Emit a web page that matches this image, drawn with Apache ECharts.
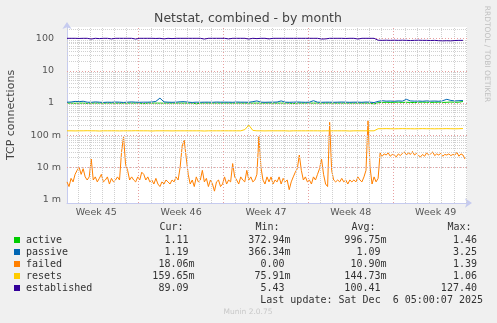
<!DOCTYPE html>
<html>
<head>
<meta charset="utf-8">
<script src="https://cdn.jsdelivr.net/npm/echarts@6/dist/echarts.min.js"></script>
<style>
html,body{margin:0;padding:0;background:#f0f0f0;}
#c{width:497px;height:323px;}
</style>
</head>
<body>
<div id="c"></div>
<script>
// ---- data (x in hours since left edge of the graph; 33 days shown) ----
var weekLabels = ['Week 45','Week 46','Week 47','Week 48','Week 49'];
var weekStartHours = [-26, 142, 310, 478, 646];   // Sunday 00:00 boundaries
var rangeHours = 792;
var yTickValues = [0.001, 0.01, 0.1, 1, 10, 100];
var yTickLabels = ['1 m', '10 m', '100 m', '1', '10', '100'];

var failedStep = 4;
var failed = [
0.0035,0.0025,0.0045,0.0035,0.006,0.008,0.010,0.006,0.009,0.005,
0.004,0.005,0.018,0.004,0.005,0.0035,0.0045,0.006,0.0035,0.004,
0.005,0.003,0.0045,0.0035,0.004,0.005,0.004,0.030,0.090,0.012,
0.008,0.004,0.005,0.004,0.0035,0.005,0.004,0.007,0.006,0.004,
0.005,0.0035,0.004,0.003,0.0045,0.003,0.0025,0.0035,0.003,0.004,
0.0035,0.003,0.004,0.0035,0.005,0.004,0.010,0.045,0.070,0.020,
0.006,0.003,0.004,0.0025,0.005,0.0035,0.004,0.008,0.0035,0.0045,
0.0025,0.004,0.003,0.0018,0.0035,0.004,0.0025,0.003,0.005,0.003,
0.004,0.0035,0.013,0.005,0.004,0.003,0.005,0.004,0.0035,0.008,
0.004,0.005,0.0035,0.004,0.006,0.090,0.010,0.004,0.003,0.005,
0.0035,0.005,0.003,0.004,0.0035,0.005,0.003,0.0045,0.0035,0.004,
0.002,0.0035,0.005,0.007,0.009,0.024,0.008,0.004,0.005,0.0035,
0.004,0.003,0.005,0.004,0.006,0.009,0.018,0.006,0.003,0.0025,
0.250,0.008,0.004,0.0035,0.004,0.0035,0.0045,0.0035,0.004,0.003,
0.004,0.0035,0.004,0.0035,0.005,0.004,0.0035,0.005,0.008,0.280,
0.010,0.003,0.005,0.0035,0.0045,0.028,0.022,0.026,0.024,0.028,
0.022,0.025,0.024,0.021,0.026,0.023,0.027,0.030,0.024,0.028,
0.025,0.031,0.024,0.027,0.023,0.021,0.025,0.022,0.028,0.024,
0.026,0.030,0.023,0.026,0.024,0.027,0.022,0.025,0.024,0.026,
0.023,0.025,0.024,0.029,0.022,0.026,0.024,0.018
];

var otherStep = 8;
var active = [
0.99,0.99,0.98,0.99,0.99,0.97,0.99,0.99,0.99,0.99,
0.99,0.99,0.99,0.98,0.99,0.99,0.99,0.99,0.99,0.95,
0.99,0.99,0.99,0.99,0.99,0.99,0.99,0.99,0.99,0.99,
0.99,0.99,0.94,0.99,0.99,0.99,0.99,0.99,0.99,0.99,
0.99,0.99,0.99,0.99,0.99,0.99,0.99,0.99,0.99,0.99,
0.99,0.99,0.99,0.99,0.99,0.99,0.96,0.99,0.99,0.99,
0.99,0.99,0.99,0.99,0.99,0.99,0.99,0.99,0.99,0.99,
0.99,0.99,0.99,0.99,0.99,0.99,0.93,1.02,1.04,1.05,
1.04,1.05,1.06,1.04,1.05,1.04,1.03,1.05,1.06,1.05,
1.04,1.05,1.06,1.04,1.05,1.07,1.05,1.06,1.11
];
var passive = [
1.06,1.07,1.12,1.10,1.13,1.06,1.05,1.08,1.06,1.04,
1.06,1.05,1.07,1.06,1.04,1.06,1.08,1.06,1.05,1.06,
1.06,1.07,1.12,1.42,1.08,1.06,1.05,1.06,1.09,1.10,
1.06,1.04,1.06,1.05,1.06,1.06,1.05,1.07,1.06,1.06,
1.06,1.05,1.07,1.06,1.06,1.05,1.10,1.16,1.06,1.05,
1.06,1.06,1.07,1.16,1.06,1.05,1.06,1.07,1.06,1.05,
1.06,1.18,1.06,1.05,1.06,1.06,1.05,1.06,1.07,1.06,
1.05,1.06,1.06,1.05,1.07,1.06,1.03,1.12,1.18,1.14,
1.15,1.13,1.16,1.14,1.30,1.16,1.14,1.15,1.13,1.16,
1.14,1.15,1.13,1.18,1.30,1.20,1.16,1.18,1.19
];
var resets = [
0.136,0.136,0.135,0.136,0.136,0.137,0.136,0.136,0.134,0.136,
0.136,0.136,0.136,0.135,0.136,0.136,0.136,0.137,0.136,0.136,
0.136,0.134,0.136,0.136,0.136,0.136,0.135,0.136,0.136,0.136,
0.136,0.136,0.136,0.136,0.134,0.136,0.136,0.136,0.136,0.136,
0.136,0.136,0.136,0.136,0.148,0.205,0.140,0.136,0.136,0.135,
0.136,0.136,0.136,0.136,0.136,0.134,0.136,0.136,0.136,0.136,
0.136,0.136,0.136,0.135,0.136,0.136,0.136,0.136,0.136,0.136,
0.134,0.136,0.136,0.136,0.136,0.136,0.136,0.158,0.158,0.159,
0.158,0.157,0.158,0.159,0.158,0.158,0.157,0.158,0.159,0.158,
0.158,0.157,0.158,0.158,0.159,0.158,0.157,0.158,0.160
];
var established = [
103,103,103,102,103,103,98,103,101,103,
103,99,103,103,103,103,103,98,103,103,
103,103,102,103,99,103,101,103,103,103,
103,103,103,103,98,103,103,103,103,103,
99,103,103,103,103,98,103,101,103,103,
99,103,103,103,103,103,103,103,103,103,
103,103,103,98,99,103,103,103,103,102,
103,103,98,103,103,103,103,90,89,90,
89,90,89,90,89,88,89,90,89,89,
88,89,87,86,87,86,88,89,89
];

var seriesNames = ['active','passive','failed','resets','established'];
var seriesColors = ['#00cc00','#0066b3','#ff8000','#ffcc00','#330099'];
var curVals = ['1.11 ','1.19 ','18.06m','159.65m','89.09 '];
var minVals = ['372.94m','366.34m','0.00 ','75.91m','5.43 '];
var avgVals = ['996.75m','1.09 ','10.90m','144.73m','100.41 '];
var maxVals = ['1.46 ','3.25 ','1.39 ','1.06 ','127.40 '];
var lastUpdate = 'Last update: Sat Dec  6 05:00:07 2025';

// ---- build ----
function pairs(arr, step){ return arr.map(function(v,i){ return [i*step, v]; }); }
var seriesData = [pairs(active,otherStep), pairs(passive,otherStep), pairs(failed,failedStep), pairs(resets,otherStep), pairs(established,otherStep)];

var weekCenters = weekStartHours.map(function(h){ return h + 84; });
var majorX = weekStartHours.filter(function(h){ return h > 0 && h < rangeHours; });
var minorX = [];
for (var h = 22; h < rangeHours; h += 24) { if (majorX.indexOf(h) < 0) minorX.push(h); }
var yMin = 0.00077, yMax = 232;
var minorY = [];
for (var d = -3; d <= 2; d++) { for (var k = 2; k <= 9; k++) { var v = k*Math.pow(10,d); if (v < yMax) minorY.push(v); } }

var chart = echarts.init(document.getElementById('c'), null, {renderer:'canvas'});
var FONT = 'DejaVu Sans';
var MONO = 'DejaVu Sans Mono';

var series = [];
series.push({
  type:'line', data:[], silent:true, z:1, symbol:'none',
  markLine:{ silent:true, symbol:'none', animation:false, label:{show:false},
    lineStyle:{color:'#d0d0d0', width:1, type:[1,1]},
    data: minorX.map(function(x){return {xAxis:x};}).concat(minorY.map(function(y){return {yAxis:y};})) }
});
series.push({
  type:'line', data:[], silent:true, z:1, symbol:'none',
  markLine:{ silent:true, symbol:'none', animation:false, label:{show:false},
    lineStyle:{color:'#e8a0a0', width:1, type:[1,2]},
    data: majorX.map(function(x){return {xAxis:x};}).concat(yTickValues.map(function(y){return {yAxis:y};})) }
});
seriesNames.forEach(function(n,i){
  series.push({ name:n, type:'line', data:seriesData[i], showSymbol:false, symbol:'none',
    z:2+i, lineStyle:{color:seriesColors[i], width:1}, itemStyle:{color:seriesColors[i]}, animation:false });
});

var graphics = [
  {type:'text', x:248, y:18.5, style:{text:'Netstat, combined - by month', font:'12.5px "'+FONT+'"', fill:'#444', align:'center', verticalAlign:'middle'}},
  {type:'text', x:11, y:115, rotation:Math.PI/2, style:{text:'TCP connections', font:'11px "'+FONT+'"', fill:'#444', align:'center', verticalAlign:'middle'}},
  {type:'text', x:487, y:54, rotation:-Math.PI/2, style:{text:'RRDTOOL / TOBI OETIKER', font:'7.5px "'+FONT+'"', fill:'#c0c0c0', align:'center', verticalAlign:'middle'}},
  {type:'text', x:248, y:312, style:{text:'Munin 2.0.75', font:'7.5px "'+FONT+'"', fill:'#c8c8c8', align:'center', verticalAlign:'middle'}}
];
var hdrY = 227.3;
[['Cur:',183.5],['Min:',279.5],['Avg:',375.5],['Max:',471.5]].forEach(function(h){
  graphics.push({type:'text', x:h[1], y:hdrY, style:{text:h[0], font:'10px "'+MONO+'"', fill:'#333', align:'right', verticalAlign:'middle'}});
});
var rowY = [240, 252, 264, 276, 288];
seriesNames.forEach(function(n,i){
  var y = rowY[i];
  graphics.push({type:'rect', shape:{x:14, y:y-3, width:6, height:6}, style:{fill:seriesColors[i]}});
  graphics.push({type:'text', x:26, y:y, style:{text:n, font:'10px "'+MONO+'"', fill:'#333', align:'left', verticalAlign:'middle'}});
  [[curVals,194.5],[minVals,290.5],[avgVals,386.5],[maxVals,483]].forEach(function(c){
    graphics.push({type:'text', x:c[1], y:y, style:{text:c[0][i], font:'10px "'+MONO+'"', fill:'#333', align:'right', verticalAlign:'middle'}});
  });
});
graphics.push({type:'text', x:483, y:300, style:{text:lastUpdate, font:'10px "'+MONO+'"', fill:'#333', align:'right', verticalAlign:'middle'}});

chart.setOption({
  backgroundColor:'#f0f0f0',
  animation:false,
  grid:{left:67, top:27, width:400, height:176, show:true, backgroundColor:'#ffffff', borderWidth:0},
  xAxis:{
    type:'value', min:0, max:rangeHours,
    splitLine:{show:false}, axisTick:{show:false},
    axisLine:{show:true, onZero:false, lineStyle:{color:'#c6cbef', width:1}, symbol:['none','arrow'], symbolSize:[7,7], symbolOffset:[0,5]},
    axisLabel:{customValues:weekCenters, color:'#555', fontSize:9.5, fontFamily:FONT, margin:5,
      formatter:function(v){ var i = weekCenters.indexOf(v); return i>=0 ? weekLabels[i] : ''; }}
  },
  yAxis:{
    type:'log', logBase:10, min:yMin, max:yMax,
    splitLine:{show:false}, axisTick:{show:false},
    axisLine:{show:true, lineStyle:{color:'#c6cbef', width:1}, symbol:['none','arrow'], symbolSize:[7,7], symbolOffset:[0,5]},
    axisLabel:{showMinLabel:false, showMaxLabel:false, color:'#555', fontSize:9.5, fontFamily:FONT, margin:6,
      formatter:function(v){
        var e = Math.log(v)/Math.LN10; var r = Math.round(e);
        if (Math.abs(e-r) > 1e-6) return '';
        var i = yTickValues.findIndex(function(t){ return Math.abs(Math.log(t)/Math.LN10 - r) < 1e-6; });
        if (i < 0) return '';
        var s = yTickLabels[i];
        return s.indexOf('m') >= 0 ? s : '{n|' + s + '}';
      },
      rich:{ n:{ padding:[0,7,0,0], color:'#555', fontSize:9.5, fontFamily:FONT } }
    }
  },
  series: series,
  graphic: graphics
});
</script>
</body>
</html>
